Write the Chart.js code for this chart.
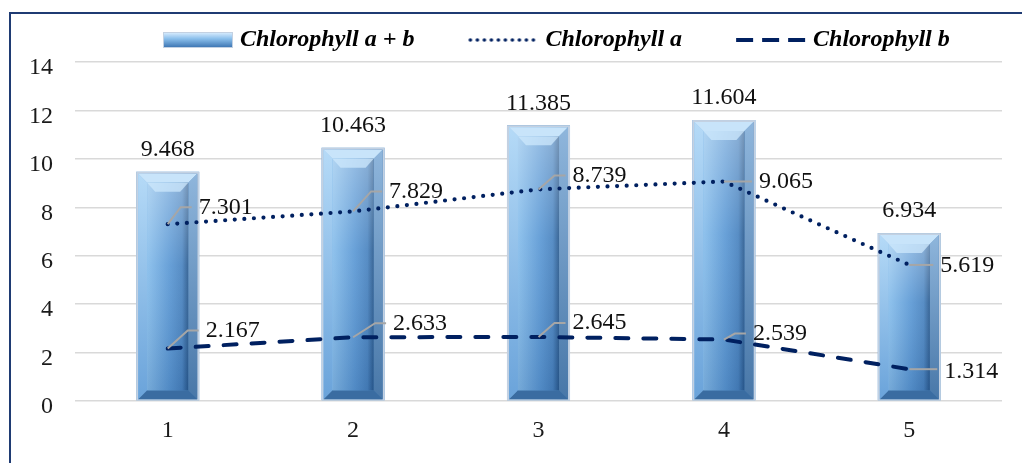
<!DOCTYPE html>
<html>
<head>
<meta charset="utf-8">
<script src="https://cdn.jsdelivr.net/npm/chart.js@4.4.0/dist/chart.umd.min.js"></script>
<style>
html,body{margin:0;padding:0;background:#fff;overflow:hidden}
#wrap{position:relative;width:1022px;height:463px}
#frame{position:absolute;left:9px;top:12px;width:1100px;height:520px;border:2px solid #1f3b73;box-sizing:border-box}
#c{position:absolute;left:0;top:0}
</style>
</head>
<body>
<div id="wrap"><div id="frame"></div><canvas id="c" width="1022" height="463"></canvas></div>
<script>
const categories = ['1', '2', '3', '4', '5'];
const chlAB = [9.468, 10.463, 11.385, 11.604, 6.934];
const chlA = [7.301, 7.829, 8.739, 9.065, 5.619];
const chlB = [2.167, 2.633, 2.645, 2.539, 1.314];
const yTicks = [0, 2, 4, 6, 8, 10, 12, 14];
const seriesNames = ['Chlorophyll a + b', 'Chlorophyll a', 'Chlorophyll b'];

const SERIF = "'Liberation Serif', 'Times New Roman', serif";
const NAVY = '#002060';

// where each line label sits relative to its point: [dx to text left, dy to text middle]
const labelPos = {
  1: [[31, -17], [36, -20], [34, -14], [35, 0], [31, 1]],
  2: [[38, -18], [40, -14], [34, -14], [29, -6], [35, 3]]
};

// legend swatch: canvas is 128 wide, centred on a 118 box, so the 70px swatch ends 5px past the box
function makeSwatch(kind) {
  const c = document.createElement('canvas');
  c.width = 128; c.height = 18;
  const g = c.getContext('2d');
  const x0 = 58, w = 70;
  if (kind === 'bar') {
    g.fillStyle = '#c3d1e2'; g.fillRect(x0, 1, w, 16);
    const gr = g.createLinearGradient(0, 2, 0, 16);
    gr.addColorStop(0, '#d3e9fc'); gr.addColorStop(0.4, '#8cc0ec'); gr.addColorStop(1, '#3f78b5');
    g.fillStyle = gr; g.fillRect(x0 + 1, 2, w - 2, 14);
  } else if (kind === 'dot') {
    g.fillStyle = NAVY;
    for (let x = x0 + 2; x <= x0 + w; x += 7) { g.beginPath(); g.arc(x, 9, 1.8, 0, Math.PI * 2); g.fill(); }
  } else {
    g.strokeStyle = NAVY; g.lineWidth = 4; g.setLineDash([17, 9]);
    g.beginPath(); g.moveTo(x0, 9); g.lineTo(x0 + w, 9); g.stroke();
  }
  return c;
}
const swatches = [makeSwatch('bar'), makeSwatch('dot'), makeSwatch('dash')];

function poly(ctx, pts, fill) {
  ctx.beginPath();
  ctx.moveTo(pts[0][0], pts[0][1]);
  for (let i = 1; i < pts.length; i++) ctx.lineTo(pts[i][0], pts[i][1]);
  ctx.closePath();
  ctx.fillStyle = fill;
  ctx.fill();
}

// bevelled look on top of the bars Chart.js lays out
const bevelBars = {
  id: 'bevelBars',
  afterDatasetDraw(chart, args) {
    if (args.index !== 0) return;
    const ctx = chart.ctx;
    ctx.save();
    args.meta.data.forEach(bar => {
      const w = bar.width, L = bar.x - w / 2, R = bar.x + w / 2, T = bar.y, B = bar.base;
      ctx.fillStyle = '#c3d1e2';
      ctx.fillRect(L, T, w, B - T);
      const L1 = L + 2, R1 = R - 2, T1 = T + 2, B1 = B - 1, b = 9;
      const face = ctx.createLinearGradient(L1, 0, R1, 0);
      face.addColorStop(0, '#8cc0ec'); face.addColorStop(0.5, '#6aa7df'); face.addColorStop(1, '#3d74ad');
      ctx.fillStyle = face;
      ctx.fillRect(L1, T1, R1 - L1, B1 - T1);
      const lg = ctx.createLinearGradient(0, T1, 0, B1);
      lg.addColorStop(0, '#b5daf7'); lg.addColorStop(1, '#6aa3da');
      poly(ctx, [[L1, T1], [L1 + b, T1 + b], [L1 + b, B1 - b], [L1, B1]], lg);
      const rg = ctx.createLinearGradient(0, T1, 0, B1);
      rg.addColorStop(0, '#8fb6dc'); rg.addColorStop(1, '#4877a8');
      poly(ctx, [[R1, T1], [R1, B1], [R1 - b, B1 - b], [R1 - b, T1 + b]], rg);
      poly(ctx, [[L1, B1], [R1, B1], [R1 - b, B1 - b], [L1 + b, B1 - b]], '#3a6ca1');
      poly(ctx, [[L1, T1], [R1, T1], [R1 - b, T1 + b], [L1 + b, T1 + b]], '#c8e4fa');
      const inner = ctx.createLinearGradient(L1 + b, 0, R1 - b, 0);
      inner.addColorStop(0, '#86bdeb'); inner.addColorStop(0.55, '#5b98d4'); inner.addColorStop(0.85, '#4a84c0'); inner.addColorStop(1, '#2b5b8f');
      ctx.fillStyle = inner;
      ctx.fillRect(L1 + b, T1 + b, R1 - L1 - 2 * b, B1 - T1 - 2 * b);
      const shade = ctx.createLinearGradient(0, T1 + b, 0, B1 - b);
      shade.addColorStop(0, 'rgba(255,255,255,0.35)'); shade.addColorStop(0.4, 'rgba(255,255,255,0.08)'); shade.addColorStop(1, 'rgba(0,30,80,0.12)');
      ctx.fillStyle = shade;
      ctx.fillRect(L1 + b, T1 + b, R1 - L1 - 2 * b, B1 - T1 - 2 * b);
      poly(ctx, [[L1 + b, T1 + b], [R1 - b, T1 + b], [R1 - b - 8, T1 + b + 9], [L1 + b + 8, T1 + b + 9]], 'rgba(205,232,252,0.75)');
    });
    ctx.restore();
  }
};

const valueLabels = {
  id: 'valueLabels',
  afterDatasetsDraw(chart) {
    const ctx = chart.ctx;
    ctx.save();
    ctx.font = '24px ' + SERIF;
    ctx.fillStyle = '#111';
    ctx.textBaseline = 'middle';
    const bars = chart.getDatasetMeta(0).data;
    ctx.textAlign = 'center';
    bars.forEach((bar, i) => ctx.fillText(chlAB[i].toFixed(3), bar.x, bar.y - 22));
    ctx.textAlign = 'left';
    [1, 2].forEach(di => {
      const vals = chart.data.datasets[di].data;
      chart.getDatasetMeta(di).data.forEach((pt, i) => {
        const [dx, dy] = labelPos[di][i];
        ctx.strokeStyle = '#a6a6a6';
        ctx.lineWidth = 2;
        ctx.beginPath();
        ctx.moveTo(pt.x, pt.y);
        if (Math.abs(dy) > 4) {
          ctx.lineTo(pt.x + dx - 18, pt.y + dy);
          ctx.lineTo(pt.x + dx - 7, pt.y + dy);
        } else {
          ctx.lineTo(pt.x + dx - 7, pt.y);
        }
        ctx.stroke();
        ctx.fillText(vals[i].toFixed(3), pt.x + dx, pt.y + dy);
      });
    });
    ctx.restore();
  }
};

const legendShift = {
  id: 'legendShift',
  afterLayout(chart) {
    const lg = chart.legend;
    if (!lg || !lg.lineWidths) return;
    const p = lg.options.labels.padding;
    const cur = (lg.left + p + lg.right - lg.lineWidths[0]) / 2;
    const d = 110 - cur;
    lg.left += d;
    lg.right += d;
  }
};

new Chart(document.getElementById('c'), {
  data: {
    labels: categories,
    datasets: [
      {
        type: 'bar', label: seriesNames[0], data: chlAB, order: 2,
        backgroundColor: '#5b9bd5', borderWidth: 0,
        barPercentage: 0.34, categoryPercentage: 1
      },
      {
        type: 'line', label: seriesNames[1], data: chlA, order: 0,
        borderColor: NAVY, borderWidth: 4.2, borderDash: [0, 9.6], borderCapStyle: 'round',
        pointRadius: 0, tension: 0, fill: false
      },
      {
        type: 'line', label: seriesNames[2], data: chlB, order: 1,
        borderColor: NAVY, borderWidth: 4, borderDash: [13, 15], borderCapStyle: 'round',
        pointRadius: 0, tension: 0, fill: false
      }
    ]
  },
  options: {
    responsive: false,
    animation: false,
    devicePixelRatio: 1,
    layout: { padding: { left: 0, right: 20, top: 27, bottom: 0 } },
    plugins: {
      tooltip: { enabled: false },
      legend: {
        position: 'top',
        labels: {
          usePointStyle: true,
          pointStyleWidth: 118,
          padding: 1,
          color: '#000',
          font: { family: SERIF, size: 24, style: 'italic', weight: 'bold' },
          generateLabels(chart) {
            const items = Chart.defaults.plugins.legend.labels.generateLabels(chart);
            items.forEach(it => { it.pointStyle = swatches[it.datasetIndex]; it.lineWidth = 0; });
            return items.sort((a, b) => a.datasetIndex - b.datasetIndex);
          }
        }
      }
    },
    scales: {
      x: {
        grid: { display: false, drawTicks: false },
        border: { display: false },
        ticks: { color: '#1a1a1a', padding: 15, font: { family: SERIF, size: 24 } },
        afterFit(s) { s.height = 62; }
      },
      y: {
        min: yTicks[0], max: yTicks[yTicks.length - 1],
        grid: { color: '#d9d9d9', lineWidth: 1.5, drawTicks: false },
        border: { display: false },
        ticks: { stepSize: yTicks[1] - yTicks[0], color: '#1a1a1a', padding: 22, labelOffset: 6, font: { family: SERIF, size: 24 } },
        afterFit(s) { s.width = 75; }
      }
    }
  },
  plugins: [bevelBars, valueLabels, legendShift]
});
</script>
</body>
</html>
